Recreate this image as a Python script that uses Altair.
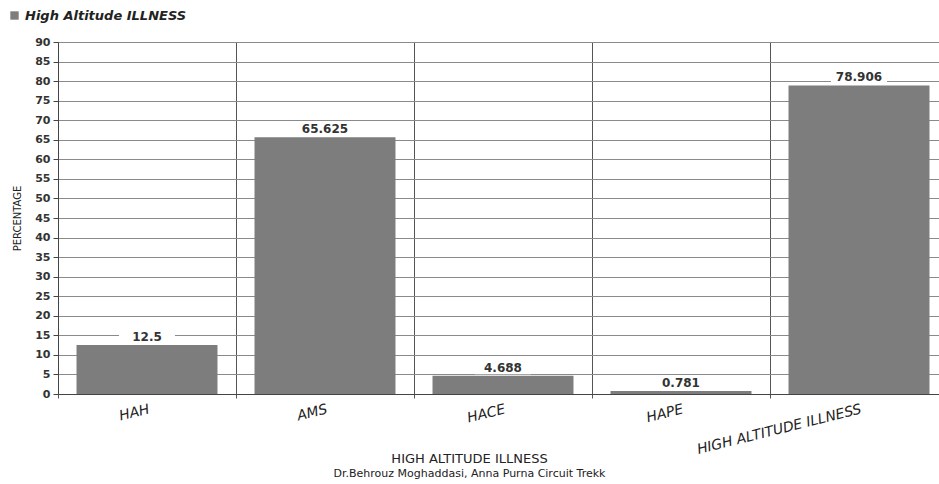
import altair as alt
import pandas as pd

categories = ["HAH", "AMS", "HACE", "HAPE", "HIGH ALTITUDE ILLNESS"]
values = [12.5, 65.625, 4.688, 0.781, 78.906]
labels = ["12.5", "65.625", "4.688", "0.781", "78.906"]
series_name = "High Altitude ILLNESS"
x_title = "HIGH ALTITUDE ILLNESS"
credit = "Dr.Behrouz Moghaddasi, Anna Purna Circuit Trekk"

df = pd.DataFrame({"cat": categories, "val": values, "lab": labels, "series": series_name})

FONT = "DejaVu Sans"
GRAY = "#7d7d7d"

x = alt.X("cat:N", sort=categories,
          scale=alt.Scale(range=[0, 890], paddingInner=0, paddingOuter=0),
          axis=alt.Axis(title=None,
                        labelAngle=346, labelAlign="right", labelBaseline="top",
                        labelFont=FONT, labelFontSize=14, labelFontStyle="italic",
                        labelColor="#222", labelPadding=4, labelLimit=400,
                        grid=True, gridColor="#555", gridWidth=1, tickBand="extent",
                        ticks=True, tickColor="#555", tickSize=4,
                        domainColor="#444", domainWidth=1))

y = alt.Y("val:Q", scale=alt.Scale(domain=[0, 90], nice=False),
          axis=alt.Axis(values=list(range(0, 91, 5)), title="PERCENTAGE",
                        titleX=-41, titleY=176, titleAngle=270, titleAlign="center",
                        titleBaseline="middle", titleFont=FONT, titleFontSize=10,
                        titleFontWeight="normal", titleColor="#222",
                        labelFont=FONT, labelFontSize=11, labelFontWeight="bold",
                        labelColor="#333", labelPadding=3,
                        grid=True, gridColor="#8a8a8a", gridWidth=1,
                        tickColor="#444", tickSize=5, domainColor="#444"))

bars = alt.Chart(df).mark_bar(stroke=None, width=alt.RelativeBandSize(0.792)).encode(
    x=x, y=y,
    color=alt.Color("series:N", scale=alt.Scale(range=[GRAY]),
                    legend=alt.Legend(title=None, orient="none", legendX=-50, legendY=-33,
                                      symbolType="square", symbolSize=70,
                                      labelFont=FONT, labelFontSize=13, labelLimit=400,
                                      labelFontStyle="italic", labelFontWeight="bold",
                                      labelColor="#222", symbolStrokeWidth=0)),
)

bg = alt.Chart(df).mark_tick(color="white", orient="horizontal", size=56, thickness=13,
                             opacity=1, yOffset=-8).encode(x=x, y=y)

text = alt.Chart(df).mark_text(font=FONT, fontSize=12, fontWeight="bold", color="#333",
                               baseline="middle", dy=-8).encode(x=x, y=y, text="lab:N")

chart = alt.layer(bars, bg, text).properties(
    width=881, height=352,
    padding={"left": 58, "top": 42, "right": 0, "bottom": 90},
    autosize=alt.AutoSizeParams(type="none"),
    title=alt.Title(text=x_title, subtitle=credit, orient="bottom", anchor="middle",
                    dx=-29, offset=-3, font=FONT, fontSize=13, fontWeight="normal",
                    color="#222", subtitleFont=FONT,
                    subtitleFontSize=11, subtitleColor="#222", subtitlePadding=2),
).configure_view(stroke=None).configure(background="white")

chart.save("out.html", embed_options={"renderer": "svg", "actions": False})
